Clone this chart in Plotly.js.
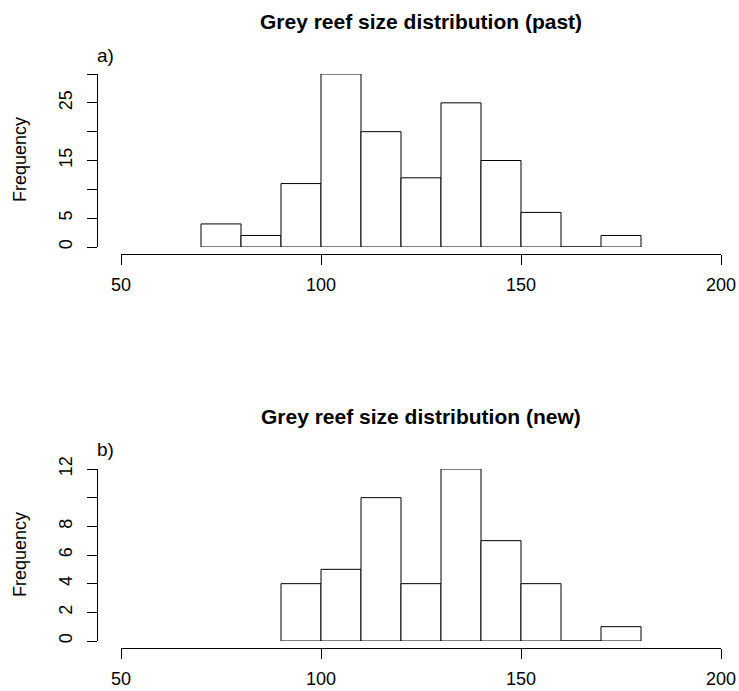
<!DOCTYPE html>
<html>
<head>
<meta charset="utf-8">
<script src="https://cdn.plot.ly/plotly-3.0.1.min.js"></script>
<style>html,body{margin:0;padding:0;background:#fff;}#chart{width:739px;height:691px;}</style>
</head>
<body>
<div id="chart"></div>
<script>
// Bin start values (bin width 10)
const pastBinStarts = [70, 80, 90, 100, 110, 120, 130, 140, 150, 160, 170];
const pastCounts    = [4, 2, 11, 30, 20, 12, 25, 15, 6, 0, 2];
const newBinStarts  = [90, 100, 110, 120, 130, 140, 150, 160, 170];
const newCounts     = [4, 5, 10, 4, 12, 7, 4, 0, 1];
const binWidth = 10;

const xTickVals = [50, 100, 150, 200];
const xTickText = ['50', '100', '150', '200'];
const pastYTickVals = [0, 5, 10, 15, 20, 25, 30];
const pastYTickText = ['0', '5', '', '15', '', '25', ''];
const newYTickVals = [0, 2, 4, 6, 8, 10, 12];
const newYTickText = ['0', '2', '4', '6', '8', '', '12'];

const titlePast = 'Grey reef size distribution (past)';
const titleNew = 'Grey reef size distribution (new)';
const yTitle = 'Frequency';

const W = 739, H = 691;
const px = v => v / W;
const py = v => 1 - v / H;

const FONT = '"Liberation Sans", Arial, Helvetica, sans-serif';

function mids(starts) { return starts.map(s => s + binWidth / 2); }

const barStyle = { color: '#ffffff', line: { color: '#000000', width: 1 } };

const traces = [
  { type: 'bar', x: mids(pastBinStarts), y: pastCounts, width: binWidth,
    marker: barStyle, xaxis: 'x', yaxis: 'y', hoverinfo: 'x+y', showlegend: false },
  { type: 'bar', x: mids(newBinStarts), y: newCounts, width: binWidth,
    marker: barStyle, xaxis: 'x2', yaxis: 'y2', hoverinfo: 'x+y', showlegend: false }
];

function xAx(pos) {
  return {
    domain: [px(121), px(721)], range: [50, 200], anchor: 'free', position: pos,
    showline: true, linecolor: '#000', linewidth: 1, mirror: false,
    ticks: 'outside', ticklen: 10, tickwidth: 1, tickcolor: '#000',
    tickvals: xTickVals, ticktext: xTickText, showgrid: false, zeroline: false,
    tickfont: { family: FONT, size: 18, color: '#000' }, ticklabelstandoff: 4,
    fixedrange: true
  };
}
function yAx(domain, range, vals, text) {
  return {
    domain: domain, range: range, anchor: 'free', position: px(97),
    showline: true, linecolor: '#000', linewidth: 1,
    ticks: 'outside', ticklen: 10, tickwidth: 1, tickcolor: '#000',
    tickvals: vals, ticktext: text, tickangle: -90, showgrid: false, zeroline: false,
    tickfont: { family: FONT, size: 18, color: '#000' }, ticklabelstandoff: 8,
    fixedrange: true
  };
}

const layout = {
  width: W, height: H,
  margin: { l: 0, r: 0, t: 0, b: 0, pad: 0 },
  paper_bgcolor: '#fff', plot_bgcolor: 'rgba(0,0,0,0)',
  font: { family: FONT, color: '#000' },
  showlegend: false,
  bargap: 0,
  xaxis: xAx(py(254)),
  yaxis: yAx([py(247), py(74)], [0, 30], pastYTickVals, pastYTickText),
  xaxis2: xAx(py(648)),
  yaxis2: yAx([py(641), py(469)], [0, 12], newYTickVals, newYTickText),
  annotations: [
    { text: '<b>' + titlePast + '</b>', xref: 'paper', yref: 'paper', x: px(421), y: py(22),
      xanchor: 'center', yanchor: 'middle', showarrow: false, font: { family: FONT, size: 21, color: '#000' } },
    { text: '<b>' + titleNew + '</b>', xref: 'paper', yref: 'paper', x: px(421), y: py(416),
      xanchor: 'center', yanchor: 'middle', showarrow: false, font: { family: FONT, size: 21, color: '#000' } },
    { text: 'a)', xref: 'paper', yref: 'paper', x: px(105), y: py(55),
      xanchor: 'center', yanchor: 'middle', showarrow: false, font: { family: FONT, size: 19, color: '#000' } },
    { text: 'b)', xref: 'paper', yref: 'paper', x: px(105), y: py(449),
      xanchor: 'center', yanchor: 'middle', showarrow: false, font: { family: FONT, size: 19, color: '#000' } },
    { text: yTitle, xref: 'paper', yref: 'paper', x: px(20), y: py(160), textangle: -90,
      xanchor: 'center', yanchor: 'middle', showarrow: false, font: { family: FONT, size: 18, color: '#000' } },
    { text: yTitle, xref: 'paper', yref: 'paper', x: px(20), y: py(555), textangle: -90,
      xanchor: 'center', yanchor: 'middle', showarrow: false, font: { family: FONT, size: 18, color: '#000' } }
  ]
};

Plotly.newPlot('chart', traces, layout, { displayModeBar: false, staticPlot: true });
</script>
</body>
</html>
